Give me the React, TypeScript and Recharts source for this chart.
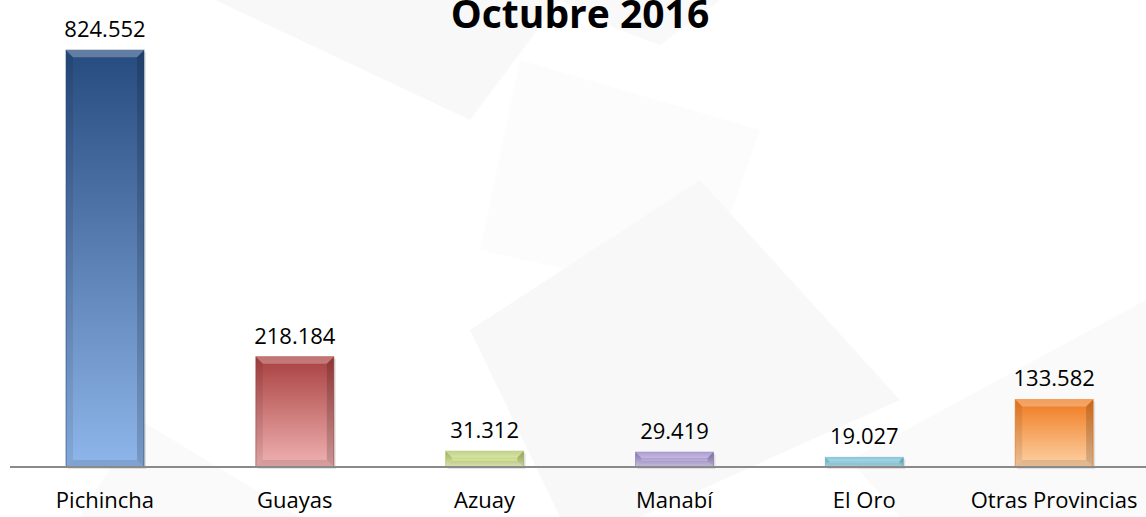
import { Bar, BarChart, Cell, LabelList, XAxis, YAxis } from "recharts";

const provincias = ["Pichincha", "Guayas", "Azuay", "Manabí", "El Oro", "Otras Provincias"];
const valores = [824552, 218184, 31312, 29419, 19027, 133582];
const etiquetas = ["824.552", "218.184", "31.312", "29.419", "19.027", "133.582"];

// top / bottom colours of each bar gradient
const coloresArriba = ["#264b7e", "#a8403f", "#a9c25c", "#8e79bd", "#5fb3cc", "#ef7a1f"];
const coloresAbajo = ["#8fb6ea", "#f0b2b2", "#f4fbc4", "#ddd2f4", "#bfe6f2", "#fdd2a6"];

const data = provincias.map((p, i) => ({ provincia: p, valor: valores[i], etiqueta: etiquetas[i] }));

const fuente = "'Open Sans', sans-serif";

function BevelBar(props: any) {
  const { x, y, width, height, index } = props;
  if (!height || height <= 0) return null;
  const b = Math.min(7, height / 2.5);
  const top = coloresArriba[index];
  return (
    <g>
      <rect x={x + 2} y={y + 2} width={width} height={height} fill="rgba(0,0,0,0.1)" />
      <rect x={x} y={y} width={width} height={height} fill={`url(#grad${index})`} stroke={top} strokeOpacity={0.6} strokeWidth={1} />
      {/* bevel: top light, sides darker */}
      <polygon points={`${x},${y} ${x + width},${y} ${x + width - b},${y + b} ${x + b},${y + b}`} fill="rgba(255,255,255,0.28)" />
      <polygon points={`${x},${y} ${x + b},${y + b} ${x + b},${y + height - b} ${x},${y + height}`} fill="rgba(0,0,0,0.08)" />
      <polygon points={`${x + width},${y} ${x + width - b},${y + b} ${x + width - b},${y + height - b} ${x + width},${y + height}`} fill="rgba(0,0,0,0.16)" />
      <polygon points={`${x},${y + height} ${x + b},${y + height - b} ${x + width - b},${y + height - b} ${x + width},${y + height}`} fill="rgba(0,0,0,0.1)" />
    </g>
  );
}

export default function App() {
  return (
    <div style={{ position: "absolute", left: 0, top: 0, width: 1146, height: 517, overflow: "hidden", background: "#fff" }}>
      {/* faint watermark shapes */}
      <svg width={1146} height={517} style={{ position: "absolute", left: 0, top: 0 }}>
        <polygon points="215,0 560,0 470,120 300,40" fill="#f8f8f8" />
        <polygon points="560,0 720,0 660,45 620,30" fill="#f9f9f9" />
        <polygon points="520,60 760,130 700,300 480,250" fill="#fcfcfc" />
        <polygon points="470,330 700,180 900,400 640,517 560,517" fill="#f8f8f8" />
        <polygon points="850,460 1146,300 1146,517 900,517" fill="#fafafa" />
        <polygon points="140,420 300,517 80,517" fill="#fafafa" />
      </svg>
      <div style={{ position: "absolute", left: 0, top: 0 }}>
        <BarChart width={1152} height={517} data={data} margin={{ top: 12, right: 3, left: 10, bottom: 0 }} barSize={78}>
          <defs>
            {coloresArriba.map((c, i) => (
              <linearGradient key={i} id={`grad${i}`} x1="0" y1="0" x2="0" y2="1">
                <stop offset="0%" stopColor={c} />
                <stop offset="100%" stopColor={coloresAbajo[i]} />
              </linearGradient>
            ))}
          </defs>
          <text x={580} y={28} textAnchor="middle" fontFamily={fuente} fontWeight={700} fontSize={39} fill="#000">
            Octubre 2016
          </text>
          <XAxis
            dataKey="provincia"
            height={50}
            tickLine={false}
            axisLine={{ stroke: "#8a8a8a", strokeWidth: 2 }}
            tick={{ fill: "#000", fontSize: 22, fontFamily: fuente }}
            tickMargin={19}
            interval={0}
          />
          <YAxis hide domain={[0, 900000]} />
          <Bar dataKey="valor" isAnimationActive={false} shape={<BevelBar />}>
            {data.map((d, i) => (
              <Cell key={d.provincia} fill={coloresArriba[i]} />
            ))}
            <LabelList
              dataKey="etiqueta"
              position="top"
              offset={13}
              style={{ fill: "#000", fontSize: 22, fontFamily: fuente }}
            />
          </Bar>
        </BarChart>
      </div>
    </div>
  );
}
